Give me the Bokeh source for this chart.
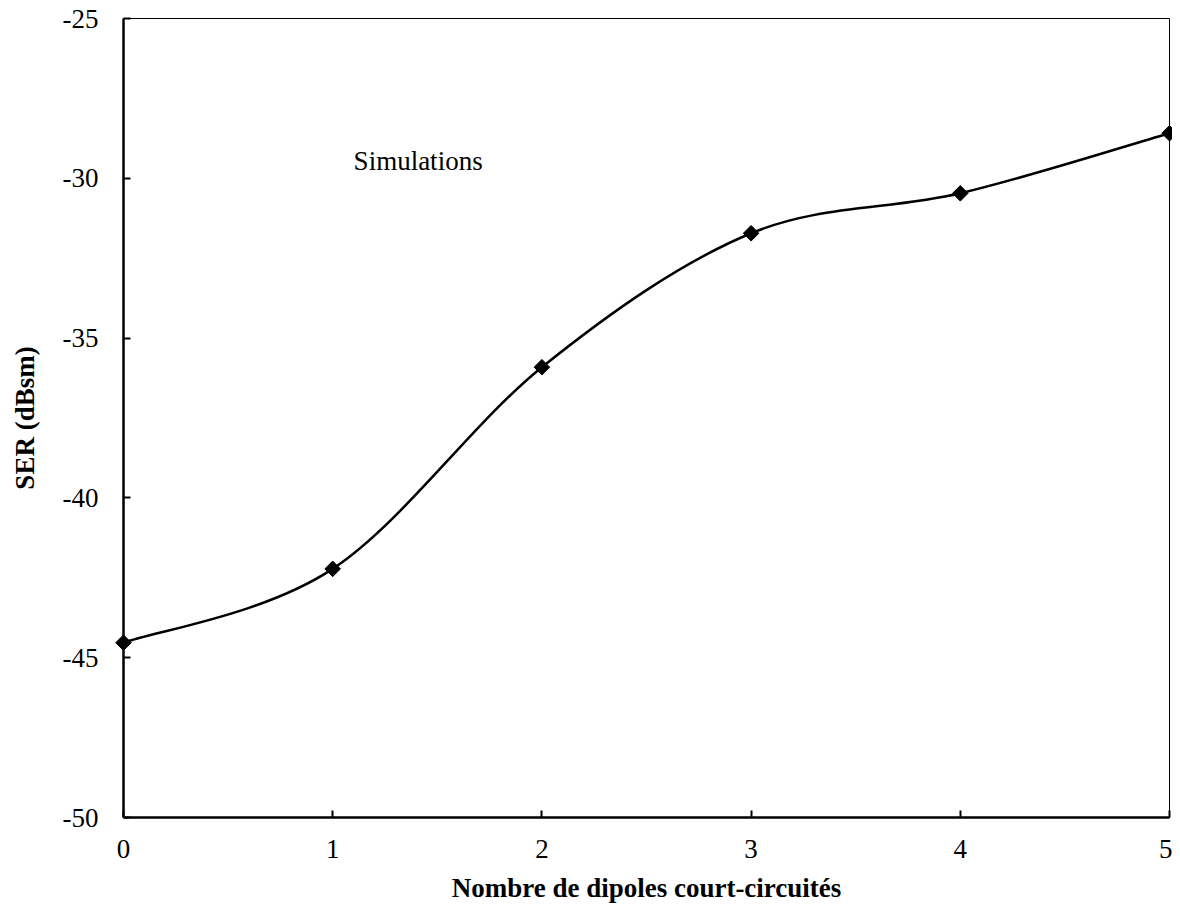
from bokeh.plotting import figure
from bokeh.models import FixedTicker, Range1d, ColumnDataSource
from bokeh.core.properties import value
from bokeh.embed import file_html
from bokeh.resources import INLINE
import math

# ---- data ----
dipoles = [0, 1, 2, 3, 4, 5]
ser_dbsm = [-44.53, -42.22, -35.91, -31.72, -30.47, -28.59]
x_ticks = [0, 1, 2, 3, 4, 5]
y_ticks = [-50, -45, -40, -35, -30, -25]
x_title = "Nombre de dipoles court-circuités"
y_title = "SER (dBsm)"
annotation = "Simulations"

FONT = "Liberation Serif"

p = figure(width=1172, height=906, output_backend="svg", toolbar_location=None,
           x_range=Range1d(0, 5), y_range=Range1d(-50, -25),
           min_border_left=123, min_border_right=3, min_border_top=18, min_border_bottom=89)

p.grid.visible = False
p.background_fill_color = "white"
p.border_fill_color = "white"
p.outline_line_color = "black"
p.outline_line_width = 1
p.outline_line_alpha = 1

for ax in (p.xaxis[0], p.yaxis[0]):
    ax.axis_line_width = 2.5
    ax.axis_line_color = "black"
    ax.major_tick_in = 7
    ax.major_tick_out = 0
    ax.major_tick_line_width = 2
    ax.major_tick_line_color = "black"
    ax.minor_tick_line_color = None
    ax.major_label_text_font = FONT
    ax.major_label_text_font_size = "27px"
    ax.major_label_text_color = "black"
    ax.axis_label_text_font = FONT
    ax.axis_label_text_font_size = "27px"
    ax.axis_label_text_font_style = "bold"
    ax.axis_label_text_color = "black"

p.xaxis[0].ticker = FixedTicker(ticks=x_ticks)
p.yaxis[0].ticker = FixedTicker(ticks=y_ticks)
p.xaxis[0].major_label_overrides = {t: str(t) for t in x_ticks}
p.yaxis[0].major_label_overrides = {t: str(t) for t in y_ticks}
p.xaxis[0].major_label_standoff = 22
p.yaxis[0].major_label_standoff = 25
p.xaxis[0].axis_label = x_title
p.yaxis[0].axis_label = y_title
p.xaxis[0].axis_label_standoff = 12
p.yaxis[0].axis_label_standoff = 20

# smooth curve (Excel-like Bezier through the data points)
n = len(dipoles)
bx0, by0, bx1, by1, cx0, cy0, cx1, cy1 = [], [], [], [], [], [], [], []
for i in range(n - 1):
    a = max(i - 1, 0)
    d = min(i + 2, n - 1)
    bx0.append(dipoles[i]); by0.append(ser_dbsm[i])
    bx1.append(dipoles[i + 1]); by1.append(ser_dbsm[i + 1])
    cx0.append(dipoles[i] + (dipoles[i + 1] - dipoles[a]) / 6)
    cy0.append(ser_dbsm[i] + (ser_dbsm[i + 1] - ser_dbsm[a]) / 6)
    cx1.append(dipoles[i + 1] - (dipoles[d] - dipoles[i]) / 6)
    cy1.append(ser_dbsm[i + 1] - (ser_dbsm[d] - ser_dbsm[i]) / 6)

p.bezier(x0=bx0, y0=by0, x1=bx1, y1=by1, cx0=cx0, cy0=cy0, cx1=cx1, cy1=cy1,
         line_color="black", line_width=2.5)

src = ColumnDataSource(dict(x=dipoles, y=ser_dbsm))
pts = p.scatter("x", "y", source=src, marker="square", size=11, angle=math.pi / 4,
                fill_color="black", line_color="black", line_width=1)
pts.level = "overlay"

p.text(x=[1.10], y=[-29.47], text=[annotation], text_font=value(FONT),
       text_font_size="27px", text_color="black", text_baseline="alphabetic",
       text_align="left")

open("out.html", "w").write(file_html(p, INLINE))
